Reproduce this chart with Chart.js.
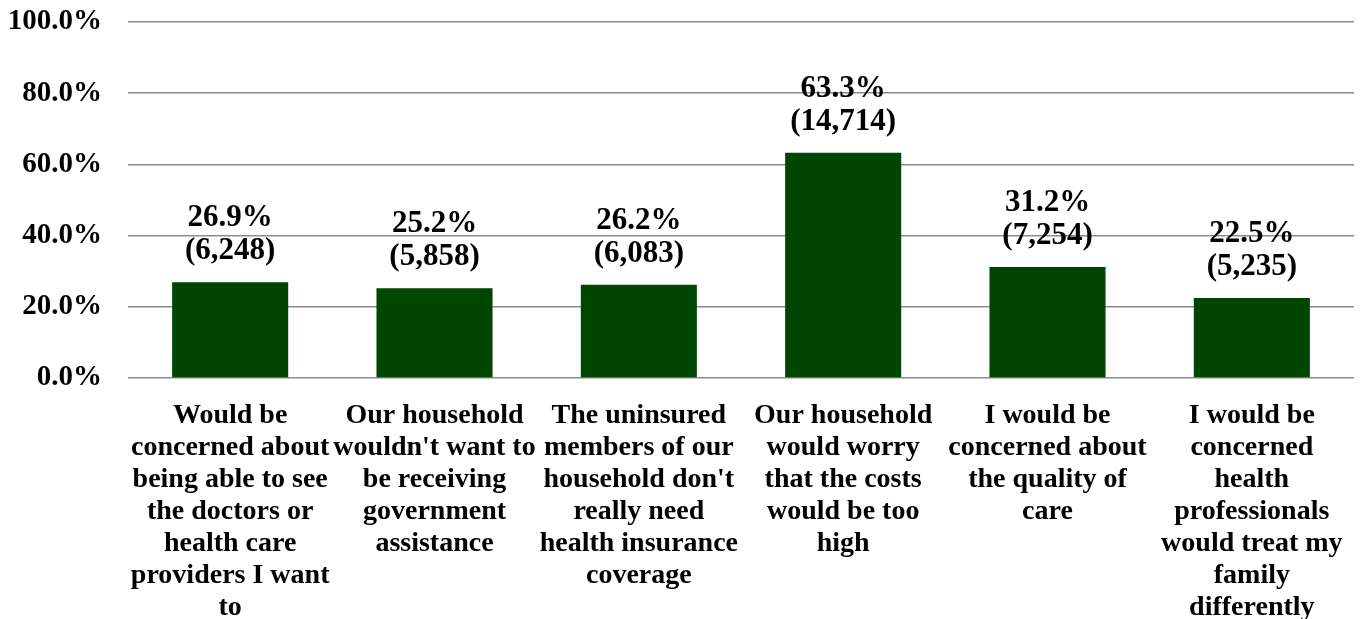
<!DOCTYPE html>
<html>
<head>
<meta charset="utf-8">
<script src="https://cdn.jsdelivr.net/npm/chart.js@4.4.1/dist/chart.umd.min.js"></script>
<style>
  html, body { margin: 0; padding: 0; background: #fff; }
  #wrap { width: 1361px; height: 619px; }
</style>
</head>
<body>
<div id="wrap"><canvas id="chart"></canvas></div>
<script>
const categories = [
  ["Would be", "concerned about", "being able to see", "the doctors or", "health care", "providers I want", "to"],
  ["Our household", "wouldn't want to", "be receiving", "government", "assistance"],
  ["The uninsured", "members of our", "household don't", "really need", "health insurance", "coverage"],
  ["Our household", "would worry", "that the costs", "would be too", "high"],
  ["I would be", "concerned about", "the quality of", "care"],
  ["I would be", "concerned", "health", "professionals", "would treat my", "family", "differently"],
];
const percents = [26.9, 25.2, 26.2, 63.3, 31.2, 22.5];
const counts = [6248, 5858, 6083, 14714, 7254, 5235];
const yTicks = [0, 20, 40, 60, 80, 100];

const FONT = '"Liberation Serif", "Times New Roman", serif';

// two-line value labels above each bar: percent, then (count)
const barLabels = {
  id: "barLabels",
  afterDatasetsDraw(chart) {
    const ctx = chart.ctx;
    const meta = chart.getDatasetMeta(0);
    ctx.save();
    ctx.font = "bold 31px " + FONT;
    ctx.fillStyle = "#000";
    ctx.textAlign = "center";
    ctx.textBaseline = "alphabetic";
    meta.data.forEach((bar, i) => {
      ctx.fillText(percents[i].toFixed(1) + "%", bar.x, bar.y - 56);
      ctx.fillText("(" + counts[i].toLocaleString("en-US") + ")", bar.x, bar.y - 23);
    });
    ctx.restore();
  },
};

new Chart(document.getElementById("chart"), {
  type: "bar",
  data: {
    labels: categories,
    datasets: [
      {
        data: percents,
        backgroundColor: "#004600",
        borderWidth: 0,
        barPercentage: 0.568,
        categoryPercentage: 1,
      },
    ],
  },
  options: {
    responsive: true,
    maintainAspectRatio: false,
    animation: false,
    devicePixelRatio: 1,
    layout: { padding: { top: 22, right: 7, left: 0, bottom: 0 } },
    plugins: { legend: { display: false }, tooltip: { enabled: false } },
    scales: {
      x: {
        grid: { display: false },
        border: { display: false },
        ticks: {
          color: "#000",
          padding: 14,
          maxRotation: 0,
          autoSkip: false,
          font: { family: FONT, size: 28, weight: "bold", lineHeight: 1.143 },
        },
        afterFit: (scale) => {
          scale.height = 241;
          scale.paddingLeft = 0;
          scale.paddingRight = 0;
        },
      },
      y: {
        min: 0,
        max: 100,
        afterBuildTicks: (scale) => { scale.ticks = yTicks.map((v) => ({ value: v })); },
        afterFit: (scale) => {
          scale.width = 128;
          scale.paddingTop = 0;
          scale.paddingBottom = 0;
        },
        grid: { color: "#8c8c8c", lineWidth: 1.5, drawTicks: false },
        border: { display: false },
        ticks: {
          color: "#000",
          padding: 26,
          font: { family: FONT, size: 29, weight: "bold" },
          callback: (v) => v.toFixed(1) + "%",
        },
      },
    },
  },
  plugins: [barLabels],
});
</script>
</body>
</html>
